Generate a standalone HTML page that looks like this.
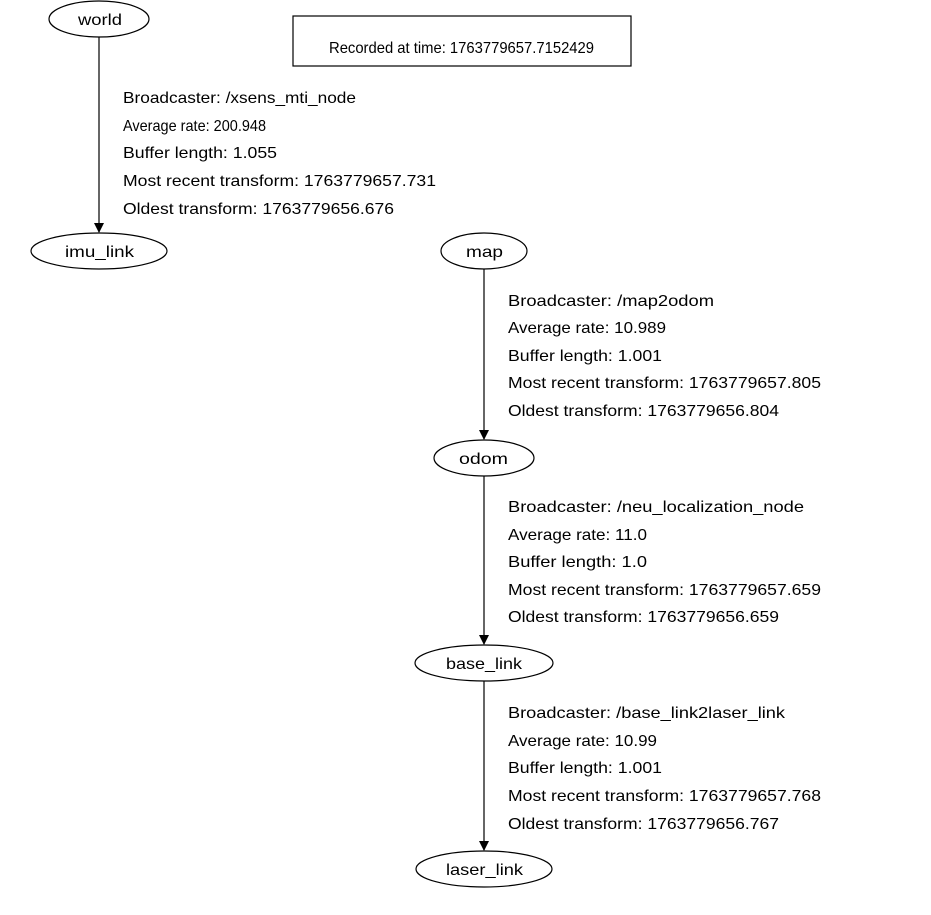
<!DOCTYPE html>
<html><head><meta charset="utf-8"><style>
html,body{margin:0;padding:0;background:#fff;}
svg text{font-family:"Liberation Sans",sans-serif;font-size:16px;fill:#000;}
</style></head><body>
<svg width="931" height="910" viewBox="0 0 931 910" xmlns="http://www.w3.org/2000/svg">
<defs><marker id="a" markerWidth="10" markerHeight="10" refX="9" refY="5" orient="auto" markerUnits="userSpaceOnUse"><path d="M0,0 L10,5 L0,10 z" fill="#000"/></marker></defs>
<g fill="none" stroke="#000" stroke-width="1.2">
<ellipse cx="99" cy="19" rx="50" ry="18"/>
<rect x="293" y="16" width="338" height="50"/>
<ellipse cx="99" cy="251" rx="68" ry="18"/>
<ellipse cx="484" cy="251" rx="43" ry="18"/>
<ellipse cx="484" cy="458" rx="50" ry="18"/>
<ellipse cx="484" cy="663" rx="69" ry="18"/>
<ellipse cx="484" cy="869" rx="68" ry="18"/>
<line x1="99" y1="37" x2="99" y2="232" marker-end="url(#a)"/>
<line x1="484" y1="269" x2="484" y2="439" marker-end="url(#a)"/>
<line x1="484" y1="476" x2="484" y2="644" marker-end="url(#a)"/>
<line x1="484" y1="681" x2="484" y2="850" marker-end="url(#a)"/>
</g>
<g lengthAdjust="spacingAndGlyphs">
<text x="78" y="25" textLength="44" lengthAdjust="spacingAndGlyphs">world</text>
<text x="329" y="53" textLength="265" lengthAdjust="spacingAndGlyphs">Recorded at time: 1763779657.7152429</text>
<text x="65" y="257" textLength="69" lengthAdjust="spacingAndGlyphs">imu_link</text>
<text x="466" y="257" textLength="37" lengthAdjust="spacingAndGlyphs">map</text>
<text x="459" y="464" textLength="49" lengthAdjust="spacingAndGlyphs">odom</text>
<text x="446" y="669" textLength="76" lengthAdjust="spacingAndGlyphs">base_link</text>
<text x="446" y="875" textLength="77" lengthAdjust="spacingAndGlyphs">laser_link</text>

<text x="123" y="103" textLength="233" lengthAdjust="spacingAndGlyphs">Broadcaster: /xsens_mti_node</text>
<text x="123" y="131" textLength="143" lengthAdjust="spacingAndGlyphs">Average rate: 200.948</text>
<text x="123" y="158" textLength="154" lengthAdjust="spacingAndGlyphs">Buffer length: 1.055</text>
<text x="123" y="186" textLength="313" lengthAdjust="spacingAndGlyphs">Most recent transform: 1763779657.731</text>
<text x="123" y="214" textLength="271" lengthAdjust="spacingAndGlyphs">Oldest transform: 1763779656.676</text>

<text x="508" y="306" textLength="206" lengthAdjust="spacingAndGlyphs">Broadcaster: /map2odom</text>
<text x="508" y="333" textLength="158" lengthAdjust="spacingAndGlyphs">Average rate: 10.989</text>
<text x="508" y="361" textLength="154" lengthAdjust="spacingAndGlyphs">Buffer length: 1.001</text>
<text x="508" y="388" textLength="313" lengthAdjust="spacingAndGlyphs">Most recent transform: 1763779657.805</text>
<text x="508" y="416" textLength="271" lengthAdjust="spacingAndGlyphs">Oldest transform: 1763779656.804</text>

<text x="508" y="512" textLength="296" lengthAdjust="spacingAndGlyphs">Broadcaster: /neu_localization_node</text>
<text x="508" y="540" textLength="139" lengthAdjust="spacingAndGlyphs">Average rate: 11.0</text>
<text x="508" y="567" textLength="139" lengthAdjust="spacingAndGlyphs">Buffer length: 1.0</text>
<text x="508" y="595" textLength="313" lengthAdjust="spacingAndGlyphs">Most recent transform: 1763779657.659</text>
<text x="508" y="622" textLength="271" lengthAdjust="spacingAndGlyphs">Oldest transform: 1763779656.659</text>

<text x="508" y="718" textLength="277" lengthAdjust="spacingAndGlyphs">Broadcaster: /base_link2laser_link</text>
<text x="508" y="746" textLength="149" lengthAdjust="spacingAndGlyphs">Average rate: 10.99</text>
<text x="508" y="773" textLength="154" lengthAdjust="spacingAndGlyphs">Buffer length: 1.001</text>
<text x="508" y="801" textLength="313" lengthAdjust="spacingAndGlyphs">Most recent transform: 1763779657.768</text>
<text x="508" y="829" textLength="271" lengthAdjust="spacingAndGlyphs">Oldest transform: 1763779656.767</text>
</g>
</svg>
</body></html>
